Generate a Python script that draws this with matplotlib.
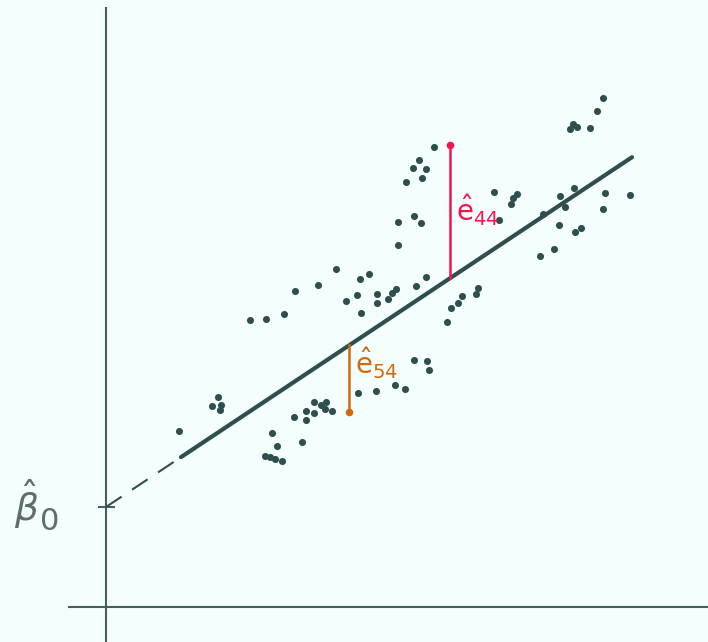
import matplotlib.pyplot as plt

plt.rcParams["mathtext.fontset"] = "dejavusans"

# scatter data (x, y)
x = [7.3, 11.2, 10.6, 11.5, 11.4, 14.4, 16.0, 17.8, 18.9, 21.2,
     23.0, 24.0, 25.1, 25.5, 25.4, 26.3, 27.1, 27.1, 28.2, 28.6,
     29.0, 16.6, 17.1, 15.9, 16.4, 16.9, 17.6, 18.8, 20.0, 20.0,
     20.8, 20.8, 21.5, 22.0, 21.9, 22.6, 19.6, 25.2, 27.0, 28.9,
     32.8, 31.3, 30.7, 32.0, 31.6, 30.0, 30.8, 31.5, 29.2, 29.2,
     32.0, 31.0, 38.8, 39.3, 40.5, 40.7, 41.1, 35.6, 35.2, 34.5,
     34.1, 37.2, 37.0, 30.8, 32.1, 32.3, 29.9, 49.7, 49.1, 46.7,
     46.4, 47.1, 48.4, 46.8, 45.4, 45.9, 43.7, 45.3, 46.9, 47.5,
     44.8, 43.4, 49.9, 52.4, 49.7]
y = [17.6, 21.0, 20.1, 20.2, 19.7, 28.7, 28.8, 29.3, 31.6, 32.2,
     33.8, 30.6, 31.2, 29.4, 32.8, 33.3, 31.3, 30.4, 30.8, 31.4,
     31.8, 17.4, 16.1, 15.1, 15.0, 14.8, 14.6, 19.0, 19.6, 18.7,
     20.5, 19.4, 20.2, 20.5, 19.8, 19.6, 16.5, 21.4, 21.6, 22.2,
     46.0, 44.7, 43.9, 43.8, 42.9, 42.5, 39.1, 38.4, 38.5, 36.2,
     33.0, 32.1, 41.5, 38.7, 40.3, 40.9, 41.3, 31.1, 30.4, 29.9,
     28.5, 31.9, 31.3, 24.7, 24.6, 23.7, 21.8, 50.9, 49.6, 48.3,
     47.8, 48.0, 47.9, 41.9, 41.1, 40.0, 39.3, 38.2, 37.5, 37.9,
     35.8, 35.1, 41.4, 41.2, 39.8]

# highlighted observations
e44_x, e44_y = 34.4, 46.2
e54_x, e54_y = 24.3, 19.5

# fitted line
b0, b1 = 10.0, 0.665
x_start, x_end = 7.5, 52.6

bg = "#F4FFFD"
dark = "#2F4F4F"
axis_col = "#465E5E"
pink = "#F5134F"
orange = "#D2690E"

def fit(v):
    return b0 + b1 * v

fig = plt.figure(figsize=(7.08, 6.42), dpi=100, facecolor=bg)
ax = fig.add_axes([0, 0, 1, 1])
ax.set_facecolor(bg)
ax.set_xlim(-10.6, 60.2)
ax.set_ylim(-3.5, 60.7)
ax.axis("off")

# axes
ax.plot([-3.7, 60.2], [0, 0], color=axis_col, lw=1.5)
ax.plot([0, 0], [-3.5, 59.9], color=axis_col, lw=1.5)
ax.plot([-0.7, 0.8], [b0, b0], color=axis_col, lw=1.5)

# regression line + dashed extension to intercept
ax.plot([0, x_start], [fit(0), fit(x_start)], color=dark, lw=1.5,
        dashes=(9, 6))
ax.plot([x_start, x_end], [fit(x_start), fit(x_end)], color=dark, lw=3,
        solid_capstyle="round")

ax.scatter(x, y, s=26, color=dark, zorder=3, linewidths=0)

# residuals
ax.plot([e44_x, e44_x], [fit(e44_x), e44_y], color=pink, lw=1.8)
ax.scatter([e44_x], [e44_y], s=30, color=pink, zorder=4, linewidths=0)
ax.plot([e54_x, e54_x], [fit(e54_x), e54_y], color=orange, lw=1.8)
ax.scatter([e54_x], [e54_y], s=30, color=orange, zorder=4, linewidths=0)

ax.text(e44_x + 0.6, 39.7, r"$\mathrm{\hat{e}}_{44}$", color=pink,
        fontsize=20, ha="left", va="center")
ax.text(e54_x + 0.6, 24.4, r"$\mathrm{\hat{e}}_{54}$", color=orange,
        fontsize=20, ha="left", va="center")

# intercept label
ax.text(-6.75, 10.3, r"$\hat{\beta}$", color="#5C6E6E", fontsize=27,
        ha="right", va="center")
ax.text(-6.6, 7.7, "0", color="#5C6E6E", fontsize=22,
        ha="left", va="baseline")

fig.savefig("out.png", dpi=100, facecolor=bg)
